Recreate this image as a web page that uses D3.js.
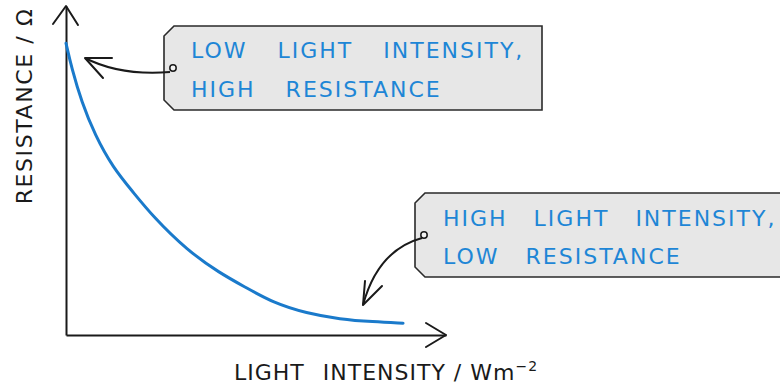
<!DOCTYPE html>
<html>
<head>
<meta charset="utf-8">
<script src="https://cdn.jsdelivr.net/npm/d3@7"></script>
<style>
  body { margin: 0; background: #fff; }
  svg { display: block; }
</style>
</head>
<body>
<div id="chart"></div>
<script>
// Curve data (arbitrary units)
var intensity = [0, 1.5, 4.1, 7.6, 12.4, 17.6, 22.9, 31.8, 40.5, 47.1, 54.5, 63.3, 72.1, 80.8, 88.7]
var resistance = [88.7, 81.1, 70.9, 60.8, 50.8, 43.5, 36, 25.8, 18.8, 14.6, 9.8, 6.6, 4.8, 4, 3.6]

var x_label = ["LIGHT INTENSITY", " / Wm"]
var y_label = "RESISTANCE / Ω"
var note_low = ["LOW LIGHT INTENSITY,", "HIGH RESISTANCE"]
var note_high = ["HIGH LIGHT INTENSITY,", "LOW RESISTANCE"]

var width = 780
var height = 389
var blue = "#1a7acb"
var text_blue = "#1e86d6"
var font = "'DejaVu Sans', sans-serif"

// Scales
var x_scale = d3.scaleLinear().domain([0, 100]).range([66, 446])
var y_scale = d3.scaleLinear().domain([0, 100]).range([335, 6])

var svg = d3.select("#chart")
    .append("svg")
    .attr("width", width)
    .attr("height", height)

// Axes with no ticks, only the arrowed lines
svg.append("g")
    .attr("transform", "translate(" + x_scale(0) + ",0)")
    .call(d3.axisLeft(y_scale).tickValues([]).tickSizeOuter(0))
    .select(".domain").attr("stroke", "#1a1a1a").attr("stroke-width", 2)

svg.append("g")
    .attr("transform", "translate(0," + y_scale(0) + ")")
    .call(d3.axisBottom(x_scale).tickValues([]).tickSizeOuter(0))
    .select(".domain").attr("stroke", "#1a1a1a").attr("stroke-width", 2)

function arrowHead(tip, a, b) {
    svg.append("path")
        .attr("d", "M" + a[0] + "," + a[1] + "L" + tip[0] + "," + tip[1] + "L" + b[0] + "," + b[1])
        .attr("fill", "none")
        .attr("stroke", "#1a1a1a")
        .attr("stroke-width", 2)
        .attr("stroke-linecap", "round")
        .attr("stroke-linejoin", "round")
}

arrowHead([x_scale(0), y_scale(100)], [x_scale(0) - 13, y_scale(100) + 18], [x_scale(0) + 12, y_scale(100) + 19])
arrowHead([x_scale(100), y_scale(0)], [x_scale(100) - 20, y_scale(0) - 12], [x_scale(100) - 20, y_scale(0) + 12])

// Resistance curve
var line = d3.line()
    .x(function(d, i) { return x_scale(intensity[i]) })
    .y(function(d, i) { return y_scale(resistance[i]) })
    .curve(d3.curveBasis)

svg.append("path")
    .datum(intensity)
    .attr("d", line)
    .attr("fill", "none")
    .attr("stroke", blue)
    .attr("stroke-width", 3)
    .attr("stroke-linecap", "round")

// Axis labels
svg.append("text")
    .attr("transform", "translate(32,106) rotate(-90)")
    .attr("text-anchor", "middle")
    .style("font-family", font)
    .style("font-size", "22px")
    .style("letter-spacing", "1.6px")
    .attr("fill", "#1a1a1a")
    .text(y_label)

var xl = svg.append("text")
    .attr("x", 234)
    .attr("y", 380)
    .style("font-family", font)
    .style("font-size", "22px")
    .style("letter-spacing", "1px")
    .attr("fill", "#1a1a1a")
xl.append("tspan").style("word-spacing", "10px").text(x_label[0])
xl.append("tspan").style("word-spacing", "0px").text(x_label[1])
xl.append("tspan").attr("dy", -9).style("font-size", "14px").text("−2")

// Note boxes
function noteBox(x0, y0, x1, y1, lines, tx, ty, gap, spacing) {
    var cut = 10
    svg.append("path")
        .attr("d", "M" + (x0 + cut) + "," + y0 + "L" + x1 + "," + y0 + "L" + x1 + "," + y1 +
            "L" + (x0 + cut) + "," + y1 + "L" + x0 + "," + (y1 - cut) + "L" + x0 + "," + (y0 + cut) + "Z")
        .attr("fill", "#e7e7e7")
        .attr("stroke", "#2a2a2a")
        .attr("stroke-width", 1.6)
    svg.append("circle")
        .attr("cx", x0 + 9)
        .attr("cy", (y0 + y1) / 2)
        .attr("r", 3.2)
        .attr("fill", "#f4f4f4")
        .attr("stroke", "#1a1a1a")
        .attr("stroke-width", 1.5)
    svg.selectAll(null)
        .data(lines)
        .enter()
        .append("text")
        .attr("x", tx)
        .attr("y", function(d, i) { return ty + i * gap })
        .style("font-family", font)
        .style("font-size", "22px")
        .style("letter-spacing", "2px")
        .style("word-spacing", spacing + "px")
        .attr("fill", text_blue)
        .text(function(d) { return d })
}

noteBox(164, 26, 542, 110, note_low, 191, 58, 39, 21)
noteBox(415, 193, 800, 277, note_high, 443, 226, 38, 17)

// Pointer arrows
svg.append("path")
    .attr("d", "M170,72 Q120,76 85,58")
    .attr("fill", "none")
    .attr("stroke", "#1a1a1a")
    .attr("stroke-width", 2)
arrowHead([85, 58], [112, 58], [103, 78])

svg.append("path")
    .attr("d", "M422,238 Q378,250 363,305")
    .attr("fill", "none")
    .attr("stroke", "#1a1a1a")
    .attr("stroke-width", 2)
arrowHead([363, 305], [382, 286], [365, 281])
</script>
</body>
</html>
